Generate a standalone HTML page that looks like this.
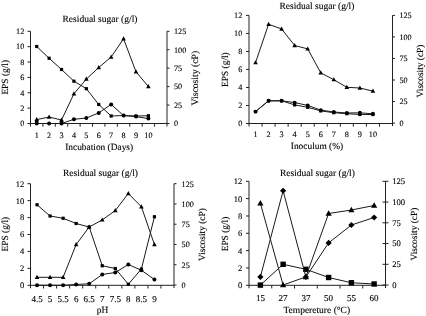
<!DOCTYPE html>
<html><head><meta charset="utf-8"><style>
html,body{margin:0;padding:0;background:#fff;width:426px;height:316px;overflow:hidden}
svg{display:block;will-change:transform;font-family:"Liberation Serif", serif;fill:#000}
text{fill:#000;stroke:#000;stroke-width:0.12px;text-rendering:geometricPrecision}
</style></head><body>
<svg width="426" height="316" viewBox="0 0 426 316">
<line x1="30.5" y1="31.3" x2="30.5" y2="126.5" stroke="#222" stroke-width="1"/>
<line x1="167" y1="31.3" x2="167" y2="126.5" stroke="#222" stroke-width="1"/>
<line x1="30.5" y1="123.5" x2="167" y2="123.5" stroke="#222" stroke-width="1"/>
<line x1="27.5" y1="123.5" x2="30.5" y2="123.5" stroke="#222" stroke-width="1"/>
<text x="24.3" y="126.3" text-anchor="end" font-size="8.2">0</text>
<line x1="27.5" y1="108.13" x2="30.5" y2="108.13" stroke="#222" stroke-width="1"/>
<text x="24.3" y="110.93" text-anchor="end" font-size="8.2">2</text>
<line x1="27.5" y1="92.77" x2="30.5" y2="92.77" stroke="#222" stroke-width="1"/>
<text x="24.3" y="95.57" text-anchor="end" font-size="8.2">4</text>
<line x1="27.5" y1="77.4" x2="30.5" y2="77.4" stroke="#222" stroke-width="1"/>
<text x="24.3" y="80.2" text-anchor="end" font-size="8.2">6</text>
<line x1="27.5" y1="62.03" x2="30.5" y2="62.03" stroke="#222" stroke-width="1"/>
<text x="24.3" y="64.83" text-anchor="end" font-size="8.2">8</text>
<line x1="27.5" y1="46.67" x2="30.5" y2="46.67" stroke="#222" stroke-width="1"/>
<text x="24.3" y="49.47" text-anchor="end" font-size="8.2">10</text>
<line x1="27.5" y1="31.3" x2="30.5" y2="31.3" stroke="#222" stroke-width="1"/>
<text x="24.3" y="34.1" text-anchor="end" font-size="8.2">12</text>
<line x1="167" y1="123.5" x2="169.5" y2="123.5" stroke="#222" stroke-width="1"/>
<text x="174" y="126.3" text-anchor="start" font-size="8.2">0</text>
<line x1="167" y1="105.06" x2="169.5" y2="105.06" stroke="#222" stroke-width="1"/>
<text x="174" y="107.86" text-anchor="start" font-size="8.2">25</text>
<line x1="167" y1="86.62" x2="169.5" y2="86.62" stroke="#222" stroke-width="1"/>
<text x="174" y="89.42" text-anchor="start" font-size="8.2">50</text>
<line x1="167" y1="68.18" x2="169.5" y2="68.18" stroke="#222" stroke-width="1"/>
<text x="174" y="70.98" text-anchor="start" font-size="8.2">75</text>
<line x1="167" y1="49.74" x2="169.5" y2="49.74" stroke="#222" stroke-width="1"/>
<text x="174" y="52.54" text-anchor="start" font-size="8.2">100</text>
<line x1="167" y1="31.3" x2="169.5" y2="31.3" stroke="#222" stroke-width="1"/>
<text x="174" y="34.1" text-anchor="start" font-size="8.2">125</text>
<line x1="42.91" y1="123.5" x2="42.91" y2="126.7" stroke="#222" stroke-width="1"/>
<line x1="55.32" y1="123.5" x2="55.32" y2="126.7" stroke="#222" stroke-width="1"/>
<line x1="67.73" y1="123.5" x2="67.73" y2="126.7" stroke="#222" stroke-width="1"/>
<line x1="80.14" y1="123.5" x2="80.14" y2="126.7" stroke="#222" stroke-width="1"/>
<line x1="92.55" y1="123.5" x2="92.55" y2="126.7" stroke="#222" stroke-width="1"/>
<line x1="104.95" y1="123.5" x2="104.95" y2="126.7" stroke="#222" stroke-width="1"/>
<line x1="117.36" y1="123.5" x2="117.36" y2="126.7" stroke="#222" stroke-width="1"/>
<line x1="129.77" y1="123.5" x2="129.77" y2="126.7" stroke="#222" stroke-width="1"/>
<line x1="142.18" y1="123.5" x2="142.18" y2="126.7" stroke="#222" stroke-width="1"/>
<line x1="154.59" y1="123.5" x2="154.59" y2="126.7" stroke="#222" stroke-width="1"/>
<text x="36.7" y="137.8" text-anchor="middle" font-size="8.2">1</text>
<text x="49.11" y="137.8" text-anchor="middle" font-size="8.2">2</text>
<text x="61.52" y="137.8" text-anchor="middle" font-size="8.2">3</text>
<text x="73.93" y="137.8" text-anchor="middle" font-size="8.2">4</text>
<text x="86.34" y="137.8" text-anchor="middle" font-size="8.2">5</text>
<text x="98.75" y="137.8" text-anchor="middle" font-size="8.2">6</text>
<text x="111.16" y="137.8" text-anchor="middle" font-size="8.2">7</text>
<text x="123.57" y="137.8" text-anchor="middle" font-size="8.2">8</text>
<text x="135.98" y="137.8" text-anchor="middle" font-size="8.2">9</text>
<text x="148.39" y="137.8" text-anchor="middle" font-size="8.2">10</text>
<text x="62.5" y="21.5" text-anchor="start" font-size="9.5">Residual sugar (g/l)</text>
<text x="65.2" y="150.4" text-anchor="start" font-size="9.4">Incubation (Days)</text>
<text x="7.9" y="77.3" text-anchor="middle" font-size="9.4" transform="rotate(-90 7.9 77.3)">EPS (g/l)</text>
<text x="197.9" y="78.15" text-anchor="middle" font-size="9.7" transform="rotate(-90 197.9 78.15)">Viscosity (cP)</text>
<polyline points="36.7,46.5 49.11,58.25 61.52,69.5 73.93,81.2 86.34,88.7 98.75,104.5 111.16,116 123.57,115.5 135.98,116 148.39,115.75" fill="none" stroke="#1a1a1a" stroke-width="1" stroke-linejoin="round"/>
<rect x="35.1" y="44.9" width="3.2" height="3.2"/>
<rect x="47.51" y="56.65" width="3.2" height="3.2"/>
<rect x="59.92" y="67.9" width="3.2" height="3.2"/>
<rect x="72.33" y="79.6" width="3.2" height="3.2"/>
<rect x="84.74" y="87.1" width="3.2" height="3.2"/>
<rect x="97.15" y="102.9" width="3.2" height="3.2"/>
<rect x="109.56" y="114.4" width="3.2" height="3.2"/>
<rect x="121.97" y="113.9" width="3.2" height="3.2"/>
<rect x="134.38" y="114.4" width="3.2" height="3.2"/>
<rect x="146.79" y="114.15" width="3.2" height="3.2"/>
<polyline points="36.7,119.6 49.11,117 61.52,120 73.93,93.8 86.34,79.1 98.75,67.5 111.16,57 123.57,38.75 135.98,71.75 148.39,86.5" fill="none" stroke="#1a1a1a" stroke-width="1" stroke-linejoin="round"/>
<polygon points="36.7,117.12 39,121.26 34.4,121.26"/>
<polygon points="49.11,114.52 51.41,118.66 46.81,118.66"/>
<polygon points="61.52,117.52 63.82,121.66 59.22,121.66"/>
<polygon points="73.93,91.32 76.23,95.46 71.63,95.46"/>
<polygon points="86.34,76.62 88.64,80.76 84.04,80.76"/>
<polygon points="98.75,65.02 101.05,69.16 96.45,69.16"/>
<polygon points="111.16,54.52 113.46,58.66 108.86,58.66"/>
<polygon points="123.57,36.27 125.87,40.41 121.27,40.41"/>
<polygon points="135.98,69.27 138.28,73.41 133.68,73.41"/>
<polygon points="148.39,84.02 150.69,88.16 146.09,88.16"/>
<polyline points="36.7,123.5 49.11,123.5 61.52,123.5 73.93,119.3 86.34,118 98.75,112.9 111.16,104.4 123.57,115.6 135.98,116.6 148.39,118.6" fill="none" stroke="#1a1a1a" stroke-width="1" stroke-linejoin="round"/>
<circle cx="36.7" cy="123.5" r="2"/>
<circle cx="49.11" cy="123.5" r="2"/>
<circle cx="61.52" cy="123.5" r="2"/>
<circle cx="73.93" cy="119.3" r="2"/>
<circle cx="86.34" cy="118" r="2"/>
<circle cx="98.75" cy="112.9" r="2"/>
<circle cx="111.16" cy="104.4" r="2"/>
<circle cx="123.57" cy="115.6" r="2"/>
<circle cx="135.98" cy="116.6" r="2"/>
<circle cx="148.39" cy="118.6" r="2"/>
<rect x="35.1" y="120.1" width="3.2" height="3.2"/>
<rect x="59.92" y="120.1" width="3.2" height="3.2"/>
<line x1="249" y1="15.4" x2="249" y2="126.5" stroke="#222" stroke-width="1"/>
<line x1="392.5" y1="15.4" x2="392.5" y2="126.1" stroke="#222" stroke-width="1"/>
<line x1="249" y1="123.5" x2="392.5" y2="123.5" stroke="#222" stroke-width="1"/>
<line x1="246" y1="123.5" x2="249" y2="123.5" stroke="#222" stroke-width="1"/>
<text x="242.3" y="126.3" text-anchor="end" font-size="8.2">0</text>
<line x1="246" y1="105.48" x2="249" y2="105.48" stroke="#222" stroke-width="1"/>
<text x="242.3" y="108.28" text-anchor="end" font-size="8.2">2</text>
<line x1="246" y1="87.47" x2="249" y2="87.47" stroke="#222" stroke-width="1"/>
<text x="242.3" y="90.27" text-anchor="end" font-size="8.2">4</text>
<line x1="246" y1="69.45" x2="249" y2="69.45" stroke="#222" stroke-width="1"/>
<text x="242.3" y="72.25" text-anchor="end" font-size="8.2">6</text>
<line x1="246" y1="51.43" x2="249" y2="51.43" stroke="#222" stroke-width="1"/>
<text x="242.3" y="54.23" text-anchor="end" font-size="8.2">8</text>
<line x1="246" y1="33.42" x2="249" y2="33.42" stroke="#222" stroke-width="1"/>
<text x="242.3" y="36.22" text-anchor="end" font-size="8.2">10</text>
<line x1="246" y1="15.4" x2="249" y2="15.4" stroke="#222" stroke-width="1"/>
<text x="242.3" y="18.2" text-anchor="end" font-size="8.2">12</text>
<line x1="392.5" y1="123.1" x2="395" y2="123.1" stroke="#222" stroke-width="1"/>
<text x="399.4" y="125.9" text-anchor="start" font-size="8.2">0</text>
<line x1="392.5" y1="101.56" x2="395" y2="101.56" stroke="#222" stroke-width="1"/>
<text x="399.4" y="104.36" text-anchor="start" font-size="8.2">25</text>
<line x1="392.5" y1="80.02" x2="395" y2="80.02" stroke="#222" stroke-width="1"/>
<text x="399.4" y="82.82" text-anchor="start" font-size="8.2">50</text>
<line x1="392.5" y1="58.48" x2="395" y2="58.48" stroke="#222" stroke-width="1"/>
<text x="399.4" y="61.28" text-anchor="start" font-size="8.2">75</text>
<line x1="392.5" y1="36.94" x2="395" y2="36.94" stroke="#222" stroke-width="1"/>
<text x="399.4" y="39.74" text-anchor="start" font-size="8.2">100</text>
<line x1="392.5" y1="15.4" x2="395" y2="15.4" stroke="#222" stroke-width="1"/>
<text x="399.4" y="18.2" text-anchor="start" font-size="8.2">125</text>
<line x1="262.05" y1="123.5" x2="262.05" y2="126.7" stroke="#222" stroke-width="1"/>
<line x1="275.09" y1="123.5" x2="275.09" y2="126.7" stroke="#222" stroke-width="1"/>
<line x1="288.14" y1="123.5" x2="288.14" y2="126.7" stroke="#222" stroke-width="1"/>
<line x1="301.18" y1="123.5" x2="301.18" y2="126.7" stroke="#222" stroke-width="1"/>
<line x1="314.23" y1="123.5" x2="314.23" y2="126.7" stroke="#222" stroke-width="1"/>
<line x1="327.27" y1="123.5" x2="327.27" y2="126.7" stroke="#222" stroke-width="1"/>
<line x1="340.32" y1="123.5" x2="340.32" y2="126.7" stroke="#222" stroke-width="1"/>
<line x1="353.36" y1="123.5" x2="353.36" y2="126.7" stroke="#222" stroke-width="1"/>
<line x1="366.41" y1="123.5" x2="366.41" y2="126.7" stroke="#222" stroke-width="1"/>
<line x1="379.45" y1="123.5" x2="379.45" y2="126.7" stroke="#222" stroke-width="1"/>
<text x="255.52" y="136.8" text-anchor="middle" font-size="8.2">1</text>
<text x="268.57" y="136.8" text-anchor="middle" font-size="8.2">2</text>
<text x="281.61" y="136.8" text-anchor="middle" font-size="8.2">3</text>
<text x="294.66" y="136.8" text-anchor="middle" font-size="8.2">4</text>
<text x="307.7" y="136.8" text-anchor="middle" font-size="8.2">5</text>
<text x="320.75" y="136.8" text-anchor="middle" font-size="8.2">6</text>
<text x="333.8" y="136.8" text-anchor="middle" font-size="8.2">7</text>
<text x="346.84" y="136.8" text-anchor="middle" font-size="8.2">8</text>
<text x="359.89" y="136.8" text-anchor="middle" font-size="8.2">9</text>
<text x="372.93" y="136.8" text-anchor="middle" font-size="8.2">10</text>
<text x="279.4" y="8.7" text-anchor="start" font-size="9.5">Residual sugar (g/l)</text>
<text x="290.8" y="149.1" text-anchor="start" font-size="9.4">Inoculum (%)</text>
<text x="228.2" y="69.6" text-anchor="middle" font-size="9.4" transform="rotate(-90 228.2 69.6)">EPS (g/l)</text>
<text x="422.7" y="71" text-anchor="middle" font-size="9.4" transform="rotate(-90 422.7 71)">Viscosity (cP)</text>
<polyline points="255.52,62.7 268.57,24.25 281.61,29 294.66,45.5 307.7,48.9 320.75,72.8 333.8,79.7 346.84,87.3 359.89,88 372.93,91.1" fill="none" stroke="#1a1a1a" stroke-width="1" stroke-linejoin="round"/>
<polygon points="255.52,60.22 257.82,64.36 253.22,64.36"/>
<polygon points="268.57,21.77 270.87,25.91 266.27,25.91"/>
<polygon points="281.61,26.52 283.91,30.66 279.31,30.66"/>
<polygon points="294.66,43.02 296.96,47.16 292.36,47.16"/>
<polygon points="307.7,46.42 310,50.56 305.4,50.56"/>
<polygon points="320.75,70.32 323.05,74.46 318.45,74.46"/>
<polygon points="333.8,77.22 336.1,81.36 331.5,81.36"/>
<polygon points="346.84,84.82 349.14,88.96 344.54,88.96"/>
<polygon points="359.89,85.52 362.19,89.66 357.59,89.66"/>
<polygon points="372.93,88.62 375.23,92.76 370.63,92.76"/>
<polyline points="255.52,111.6 268.57,100.8 281.61,100.8 294.66,104.9 307.7,107.3 320.75,110.9 333.8,112.7 346.84,113.7 359.89,114.5 372.93,114.5" fill="none" stroke="#1a1a1a" stroke-width="1" stroke-linejoin="round"/>
<rect x="253.92" y="110" width="3.2" height="3.2"/>
<rect x="266.97" y="99.2" width="3.2" height="3.2"/>
<rect x="280.01" y="99.2" width="3.2" height="3.2"/>
<rect x="293.06" y="103.3" width="3.2" height="3.2"/>
<rect x="306.1" y="105.7" width="3.2" height="3.2"/>
<rect x="319.15" y="109.3" width="3.2" height="3.2"/>
<rect x="332.2" y="111.1" width="3.2" height="3.2"/>
<rect x="345.24" y="112.1" width="3.2" height="3.2"/>
<rect x="358.29" y="112.9" width="3.2" height="3.2"/>
<rect x="371.33" y="112.9" width="3.2" height="3.2"/>
<polyline points="255.52,111.6 268.57,100.8 281.61,100.8 294.66,102.6 307.7,105.4 320.75,110.1 333.8,112 346.84,113 359.89,112.8 372.93,113.8" fill="none" stroke="#1a1a1a" stroke-width="1" stroke-linejoin="round"/>
<circle cx="255.52" cy="111.6" r="1.95"/>
<circle cx="268.57" cy="100.8" r="1.95"/>
<circle cx="281.61" cy="100.8" r="1.95"/>
<circle cx="294.66" cy="102.6" r="1.95"/>
<circle cx="307.7" cy="105.4" r="1.95"/>
<circle cx="320.75" cy="110.1" r="1.95"/>
<circle cx="333.8" cy="112" r="1.95"/>
<circle cx="346.84" cy="113" r="1.95"/>
<circle cx="359.89" cy="112.8" r="1.95"/>
<circle cx="372.93" cy="113.8" r="1.95"/>
<line x1="30.5" y1="183.7" x2="30.5" y2="288.3" stroke="#222" stroke-width="1"/>
<line x1="174" y1="183.7" x2="174" y2="288" stroke="#222" stroke-width="1"/>
<line x1="30.5" y1="285.3" x2="174" y2="285.3" stroke="#222" stroke-width="1"/>
<line x1="27.5" y1="285.3" x2="30.5" y2="285.3" stroke="#222" stroke-width="1"/>
<text x="24.2" y="288.2" text-anchor="end" font-size="8.5">0</text>
<line x1="27.5" y1="268.37" x2="30.5" y2="268.37" stroke="#222" stroke-width="1"/>
<text x="24.2" y="271.27" text-anchor="end" font-size="8.5">2</text>
<line x1="27.5" y1="251.43" x2="30.5" y2="251.43" stroke="#222" stroke-width="1"/>
<text x="24.2" y="254.33" text-anchor="end" font-size="8.5">4</text>
<line x1="27.5" y1="234.5" x2="30.5" y2="234.5" stroke="#222" stroke-width="1"/>
<text x="24.2" y="237.4" text-anchor="end" font-size="8.5">6</text>
<line x1="27.5" y1="217.57" x2="30.5" y2="217.57" stroke="#222" stroke-width="1"/>
<text x="24.2" y="220.47" text-anchor="end" font-size="8.5">8</text>
<line x1="27.5" y1="200.63" x2="30.5" y2="200.63" stroke="#222" stroke-width="1"/>
<text x="24.2" y="203.53" text-anchor="end" font-size="8.5">10</text>
<line x1="27.5" y1="183.7" x2="30.5" y2="183.7" stroke="#222" stroke-width="1"/>
<text x="24.2" y="186.6" text-anchor="end" font-size="8.5">12</text>
<line x1="174" y1="285" x2="176.5" y2="285" stroke="#222" stroke-width="1"/>
<text x="181.6" y="287.8" text-anchor="start" font-size="8.2">0</text>
<line x1="174" y1="264.74" x2="176.5" y2="264.74" stroke="#222" stroke-width="1"/>
<text x="181.6" y="267.54" text-anchor="start" font-size="8.2">25</text>
<line x1="174" y1="244.48" x2="176.5" y2="244.48" stroke="#222" stroke-width="1"/>
<text x="181.6" y="247.28" text-anchor="start" font-size="8.2">50</text>
<line x1="174" y1="224.22" x2="176.5" y2="224.22" stroke="#222" stroke-width="1"/>
<text x="181.6" y="227.02" text-anchor="start" font-size="8.2">75</text>
<line x1="174" y1="203.96" x2="176.5" y2="203.96" stroke="#222" stroke-width="1"/>
<text x="181.6" y="206.76" text-anchor="start" font-size="8.2">100</text>
<line x1="174" y1="183.7" x2="176.5" y2="183.7" stroke="#222" stroke-width="1"/>
<text x="181.6" y="186.5" text-anchor="start" font-size="8.2">125</text>
<line x1="43.55" y1="285.3" x2="43.55" y2="288.5" stroke="#222" stroke-width="1"/>
<line x1="56.59" y1="285.3" x2="56.59" y2="288.5" stroke="#222" stroke-width="1"/>
<line x1="69.64" y1="285.3" x2="69.64" y2="288.5" stroke="#222" stroke-width="1"/>
<line x1="82.68" y1="285.3" x2="82.68" y2="288.5" stroke="#222" stroke-width="1"/>
<line x1="95.73" y1="285.3" x2="95.73" y2="288.5" stroke="#222" stroke-width="1"/>
<line x1="108.77" y1="285.3" x2="108.77" y2="288.5" stroke="#222" stroke-width="1"/>
<line x1="121.82" y1="285.3" x2="121.82" y2="288.5" stroke="#222" stroke-width="1"/>
<line x1="134.86" y1="285.3" x2="134.86" y2="288.5" stroke="#222" stroke-width="1"/>
<line x1="147.91" y1="285.3" x2="147.91" y2="288.5" stroke="#222" stroke-width="1"/>
<line x1="160.95" y1="285.3" x2="160.95" y2="288.5" stroke="#222" stroke-width="1"/>
<text x="37.02" y="301.6" text-anchor="middle" font-size="9">4.5</text>
<text x="50.07" y="301.6" text-anchor="middle" font-size="9">5</text>
<text x="63.11" y="301.6" text-anchor="middle" font-size="9">5.5</text>
<text x="76.16" y="301.6" text-anchor="middle" font-size="9">6</text>
<text x="89.2" y="301.6" text-anchor="middle" font-size="9">6.5</text>
<text x="102.25" y="301.6" text-anchor="middle" font-size="9">7</text>
<text x="115.3" y="301.6" text-anchor="middle" font-size="9">7.5</text>
<text x="128.34" y="301.6" text-anchor="middle" font-size="9">8</text>
<text x="141.39" y="301.6" text-anchor="middle" font-size="9">8.5</text>
<text x="154.43" y="301.6" text-anchor="middle" font-size="9">9</text>
<text x="63" y="175.5" text-anchor="start" font-size="9.5">Residual sugar (g/l)</text>
<text x="96.8" y="313.3" text-anchor="start" font-size="9.4">pH</text>
<text x="8" y="234.1" text-anchor="middle" font-size="9.4" transform="rotate(-90 8 234.1)">EPS (g/l)</text>
<text x="204.6" y="234.6" text-anchor="middle" font-size="9.4" transform="rotate(-90 204.6 234.6)">Viscosity (cP)</text>
<polyline points="37.02,204.75 50.07,216 63.11,218.25 76.16,223.5 89.2,227 102.25,265.75 115.3,268.5 128.34,284.25 141.39,269 154.43,216.75" fill="none" stroke="#1a1a1a" stroke-width="1" stroke-linejoin="round"/>
<rect x="35.42" y="203.15" width="3.2" height="3.2"/>
<rect x="48.47" y="214.4" width="3.2" height="3.2"/>
<rect x="61.51" y="216.65" width="3.2" height="3.2"/>
<rect x="74.56" y="221.9" width="3.2" height="3.2"/>
<rect x="87.6" y="225.4" width="3.2" height="3.2"/>
<rect x="100.65" y="264.15" width="3.2" height="3.2"/>
<rect x="113.7" y="266.9" width="3.2" height="3.2"/>
<rect x="126.74" y="282.65" width="3.2" height="3.2"/>
<rect x="139.79" y="267.4" width="3.2" height="3.2"/>
<rect x="152.83" y="215.15" width="3.2" height="3.2"/>
<polyline points="37.02,277.3 50.07,277.3 63.11,277.3 76.16,244.5 89.2,227 102.25,219.9 115.3,210.5 128.34,193.5 141.39,206.75 154.43,244.5" fill="none" stroke="#1a1a1a" stroke-width="1" stroke-linejoin="round"/>
<polygon points="37.02,274.82 39.32,278.96 34.72,278.96"/>
<polygon points="50.07,274.82 52.37,278.96 47.77,278.96"/>
<polygon points="63.11,274.82 65.41,278.96 60.81,278.96"/>
<polygon points="76.16,242.02 78.46,246.16 73.86,246.16"/>
<polygon points="89.2,224.52 91.5,228.66 86.9,228.66"/>
<polygon points="102.25,217.42 104.55,221.56 99.95,221.56"/>
<polygon points="115.3,208.02 117.6,212.16 113,212.16"/>
<polygon points="128.34,191.02 130.64,195.16 126.04,195.16"/>
<polygon points="141.39,204.27 143.69,208.41 139.09,208.41"/>
<polygon points="154.43,242.02 156.73,246.16 152.13,246.16"/>
<polyline points="37.02,285.25 50.07,285.25 63.11,285.25 76.16,284.5 89.2,283.75 102.25,274.5 115.3,272.5 128.34,264.5 141.39,270.25 154.43,279.5" fill="none" stroke="#1a1a1a" stroke-width="1" stroke-linejoin="round"/>
<circle cx="37.02" cy="285.25" r="2"/>
<circle cx="50.07" cy="285.25" r="2"/>
<circle cx="63.11" cy="285.25" r="2"/>
<circle cx="76.16" cy="284.5" r="2"/>
<circle cx="89.2" cy="283.75" r="2"/>
<circle cx="102.25" cy="274.5" r="2"/>
<circle cx="115.3" cy="272.5" r="2"/>
<circle cx="128.34" cy="264.5" r="2"/>
<circle cx="141.39" cy="270.25" r="2"/>
<circle cx="154.43" cy="279.5" r="2"/>
<line x1="249" y1="181.3" x2="249" y2="288.3" stroke="#222" stroke-width="1"/>
<line x1="385.5" y1="181.3" x2="385.5" y2="288.05" stroke="#222" stroke-width="1"/>
<line x1="249" y1="285.3" x2="385.5" y2="285.3" stroke="#222" stroke-width="1"/>
<line x1="246" y1="285.3" x2="249" y2="285.3" stroke="#222" stroke-width="1"/>
<text x="242.2" y="288.2" text-anchor="end" font-size="8.5">0</text>
<line x1="246" y1="267.97" x2="249" y2="267.97" stroke="#222" stroke-width="1"/>
<text x="242.2" y="270.87" text-anchor="end" font-size="8.5">2</text>
<line x1="246" y1="250.63" x2="249" y2="250.63" stroke="#222" stroke-width="1"/>
<text x="242.2" y="253.53" text-anchor="end" font-size="8.5">4</text>
<line x1="246" y1="233.3" x2="249" y2="233.3" stroke="#222" stroke-width="1"/>
<text x="242.2" y="236.2" text-anchor="end" font-size="8.5">6</text>
<line x1="246" y1="215.97" x2="249" y2="215.97" stroke="#222" stroke-width="1"/>
<text x="242.2" y="218.87" text-anchor="end" font-size="8.5">8</text>
<line x1="246" y1="198.63" x2="249" y2="198.63" stroke="#222" stroke-width="1"/>
<text x="242.2" y="201.53" text-anchor="end" font-size="8.5">10</text>
<line x1="246" y1="181.3" x2="249" y2="181.3" stroke="#222" stroke-width="1"/>
<text x="242.2" y="184.2" text-anchor="end" font-size="8.5">12</text>
<line x1="382.5" y1="285.05" x2="388.5" y2="285.05" stroke="#222" stroke-width="1"/>
<text x="392.2" y="287.85" text-anchor="start" font-size="8.6">0</text>
<line x1="382.5" y1="264.3" x2="388.5" y2="264.3" stroke="#222" stroke-width="1"/>
<text x="392.2" y="267.1" text-anchor="start" font-size="8.6">25</text>
<line x1="382.5" y1="243.55" x2="388.5" y2="243.55" stroke="#222" stroke-width="1"/>
<text x="392.2" y="246.35" text-anchor="start" font-size="8.6">50</text>
<line x1="382.5" y1="222.8" x2="388.5" y2="222.8" stroke="#222" stroke-width="1"/>
<text x="392.2" y="225.6" text-anchor="start" font-size="8.6">75</text>
<line x1="382.5" y1="202.05" x2="388.5" y2="202.05" stroke="#222" stroke-width="1"/>
<text x="392.2" y="204.85" text-anchor="start" font-size="8.6">100</text>
<line x1="382.5" y1="181.3" x2="388.5" y2="181.3" stroke="#222" stroke-width="1"/>
<text x="392.2" y="184.1" text-anchor="start" font-size="8.6">125</text>
<line x1="271.75" y1="285.3" x2="271.75" y2="288.5" stroke="#222" stroke-width="1"/>
<line x1="294.5" y1="285.3" x2="294.5" y2="288.5" stroke="#222" stroke-width="1"/>
<line x1="317.25" y1="285.3" x2="317.25" y2="288.5" stroke="#222" stroke-width="1"/>
<line x1="340" y1="285.3" x2="340" y2="288.5" stroke="#222" stroke-width="1"/>
<line x1="362.75" y1="285.3" x2="362.75" y2="288.5" stroke="#222" stroke-width="1"/>
<text x="260.38" y="300.7" text-anchor="middle" font-size="9">15</text>
<text x="283.12" y="300.7" text-anchor="middle" font-size="9">27</text>
<text x="305.88" y="300.7" text-anchor="middle" font-size="9">37</text>
<text x="328.62" y="300.7" text-anchor="middle" font-size="9">50</text>
<text x="351.38" y="300.7" text-anchor="middle" font-size="9">55</text>
<text x="374.12" y="300.7" text-anchor="middle" font-size="9">60</text>
<text x="279.9" y="175.5" text-anchor="start" font-size="9.5">Residual sugar (g/l)</text>
<text x="283.4" y="312.8" text-anchor="start" font-size="9.5">Tempereture (°C)</text>
<text x="227.8" y="234" text-anchor="middle" font-size="9.4" transform="rotate(-90 227.8 234)">EPS (g/l)</text>
<text x="416.6" y="234.1" text-anchor="middle" font-size="9.4" transform="rotate(-90 416.6 234.1)">Viscosity (cP)</text>
<polyline points="260.38,285.1 283.12,264.3 305.88,269.3 328.62,277.5 351.38,282.75 374.12,284" fill="none" stroke="#1a1a1a" stroke-width="1" stroke-linejoin="round"/>
<rect x="257.68" y="282.4" width="5.4" height="5.4"/>
<rect x="280.43" y="261.6" width="5.4" height="5.4"/>
<rect x="303.18" y="266.6" width="5.4" height="5.4"/>
<rect x="325.93" y="274.8" width="5.4" height="5.4"/>
<rect x="348.68" y="280.05" width="5.4" height="5.4"/>
<rect x="371.43" y="281.3" width="5.4" height="5.4"/>
<polyline points="260.38,203.25 283.12,285 305.88,276.9 328.62,213.5 351.38,210 374.12,205.5" fill="none" stroke="#1a1a1a" stroke-width="1" stroke-linejoin="round"/>
<polygon points="260.38,199.9 263.48,205.48 257.27,205.48"/>
<polygon points="283.12,281.65 286.23,287.23 280.02,287.23"/>
<polygon points="305.88,273.55 308.98,279.13 302.77,279.13"/>
<polygon points="328.62,210.15 331.73,215.73 325.52,215.73"/>
<polygon points="351.38,206.65 354.48,212.23 348.27,212.23"/>
<polygon points="374.12,202.15 377.23,207.73 371.02,207.73"/>
<polyline points="260.38,276.9 283.12,190.75 305.88,277 328.62,242.9 351.38,225 374.12,217.5" fill="none" stroke="#1a1a1a" stroke-width="1" stroke-linejoin="round"/>
<polygon points="260.38,273.8 263.48,276.9 260.38,280 257.27,276.9"/>
<polygon points="283.12,187.65 286.23,190.75 283.12,193.85 280.02,190.75"/>
<polygon points="305.88,273.9 308.98,277 305.88,280.1 302.77,277"/>
<polygon points="328.62,239.8 331.73,242.9 328.62,246 325.52,242.9"/>
<polygon points="351.38,221.9 354.48,225 351.38,228.1 348.27,225"/>
<polygon points="374.12,214.4 377.23,217.5 374.12,220.6 371.02,217.5"/>
</svg>
</body></html>
